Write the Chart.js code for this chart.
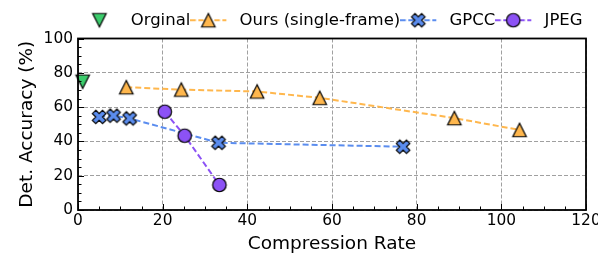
<!DOCTYPE html>
<html>
<head>
<meta charset="utf-8">
<script src="https://cdn.jsdelivr.net/npm/chart.js@4/dist/chart.umd.min.js"></script>
<style>
  html, body { margin: 0; padding: 0; background: #fff; }
</style>
</head>
<body>
<canvas id="accChart" width="598" height="257"></canvas>
<script>
// values
const seriesNames = ['Orginal', 'Ours (single-frame)', 'GPCC', 'JPEG'];
const originalX = [1.1];
const originalY = [74.8];
const oursX = [11.4, 24.4, 42.3, 57.1, 88.9, 104.3];
const oursY = [71.6, 70.2, 69.1, 65.4, 53.6, 46.7];
const gpccX = [5.0, 8.4, 12.2, 33.2, 76.8];
const gpccY = [54.3, 55.0, 53.4, 39.2, 36.9];
const jpegX = [20.5, 25.2, 33.4];
const jpegY = [57.3, 43.3, 14.6];
const xTicks = [0, 20, 40, 60, 80, 100, 120];
const yTicks = [0, 20, 40, 60, 80, 100];

const colors = ['#3ccc6c', '#ffb74d', '#5b8def', '#8c52f5'];
const shapes = ['down', 'up', 'x', 'circle'];
const FONT = 'DejaVu Sans';

// matplotlib-like filled markers
function drawMarker(c, shape, cx, cy, s, fill) {
    const h = s / 2;
    c.beginPath();
    if (shape === 'circle') {
        c.arc(cx, cy, h, 0, Math.PI * 2);
    } else if (shape === 'up') {
        c.moveTo(cx, cy - h); c.lineTo(cx + h, cy + h); c.lineTo(cx - h, cy + h); c.closePath();
    } else if (shape === 'down') {
        c.moveTo(cx, cy + h); c.lineTo(cx + h, cy - h); c.lineTo(cx - h, cy - h); c.closePath();
    } else {
        const pts = [[-1,-2],[0,-1],[1,-2],[2,-1],[1,0],[2,1],[1,2],[0,1],[-1,2],[-2,1],[-1,0],[-2,-1]];
        pts.forEach((p, i) => {
            const px = cx + p[0] * s / 4, py = cy + p[1] * s / 4;
            if (i === 0) c.moveTo(px, py); else c.lineTo(px, py);
        });
        c.closePath();
    }
    c.fillStyle = fill;
    c.fill();
    c.lineWidth = 1.2;
    c.strokeStyle = '#000';
    c.stroke();
}

function makeMarker(shape, fill) {
    const cv = document.createElement('canvas');
    cv.width = 20; cv.height = 20;
    drawMarker(cv.getContext('2d'), shape, 10, 10, 13.5, fill);
    return cv;
}

function makeHandle(shape, fill, withLine) {
    const cv = document.createElement('canvas');
    cv.width = 41; cv.height = 20;
    const c = cv.getContext('2d');
    if (withLine) {
        c.strokeStyle = fill;
        c.lineWidth = 2;
        c.setLineDash([5.5, 2.5]);
        c.beginPath(); c.moveTo(0, 10); c.lineTo(36, 10); c.stroke();
        c.setLineDash([]);
    }
    drawMarker(c, shape, 18, 10, 13.5, fill);
    return cv;
}

const handles = shapes.map((s, i) => makeHandle(s, colors[i], i > 0));

function makeSet(i, xs, ys, withLine, order) {
    return {
        label: seriesNames[i],
        data: xs.map((v, k) => ({ x: v, y: ys[k] })),
        showLine: withLine,
        borderColor: colors[i],
        backgroundColor: colors[i],
        borderWidth: 2,
        borderDash: [6, 3],
        pointStyle: makeMarker(shapes[i], colors[i]),
        pointRadius: 8,
        pointHoverRadius: 8,
        clip: false,
        order: order
    };
}

// inward ticks (major + minor) and the black frame
const frameTicks = {
    id: 'frameTicks',
    afterDraw(chart) {
        const { ctx, chartArea: a, scales: { x, y } } = chart;
        ctx.save();
        ctx.strokeStyle = '#000';
        ctx.lineWidth = 1;
        const tick = (px, py, dx, dy) => {
            ctx.beginPath(); ctx.moveTo(px, py); ctx.lineTo(px + dx, py + dy); ctx.stroke();
        };
        xTicks.forEach((t, i) => {
            tick(Math.round(x.getPixelForValue(t)) + 0.5, a.bottom, 0, -6);
            if (i < xTicks.length - 1) {
                const step = (xTicks[i + 1] - t) / 4;
                for (let k = 1; k < 4; k++) tick(Math.round(x.getPixelForValue(t + k * step)) + 0.5, a.bottom, 0, -3.5);
            }
        });
        yTicks.forEach((t, i) => {
            tick(a.left, Math.round(y.getPixelForValue(t)) + 0.5, 6, 0);
            if (i < yTicks.length - 1) {
                const step = (yTicks[i + 1] - t) / 4;
                for (let k = 1; k < 4; k++) tick(a.left, Math.round(y.getPixelForValue(t + k * step)) + 0.5, 3.5, 0);
            }
        });
        ctx.lineWidth = 1.8;
        ctx.strokeRect(a.left, a.top, a.width, a.height);
        ctx.restore();
    }
};

Chart.defaults.font.family = FONT;
Chart.defaults.color = '#000';

new Chart(document.getElementById('accChart'), {
    type: 'scatter',
    data: {
        datasets: [
            makeSet(0, originalX, originalY, false, 3),
            makeSet(1, oursX, oursY, true, 2),
            makeSet(2, gpccX, gpccY, true, 1),
            makeSet(3, jpegX, jpegY, true, 0)
        ]
    },
    options: {
        responsive: false,
        animation: false,
        devicePixelRatio: 1,
        layout: { padding: { top: 12, right: 12, left: 0, bottom: 0 } },
        plugins: {
            tooltip: { enabled: false },
            legend: {
                position: 'top',
                fullSize: false,
                labels: {
                    usePointStyle: true,
                    pointStyleWidth: 41,
                    padding: 0,
                    font: { size: 16.5 },
                    color: '#000',
                    generateLabels: () => seriesNames.map((n, i) => ({
                        text: n,
                        pointStyle: handles[i],
                        fillStyle: colors[i],
                        strokeStyle: colors[i],
                        lineWidth: 0,
                        hidden: false,
                        datasetIndex: i,
                        fontColor: '#000'
                    }))
                }
            }
        },
        scales: {
            x: {
                type: 'linear',
                min: 0, max: 120,
                afterBuildTicks: s => { s.ticks = xTicks.map(v => ({ value: v })); },
                afterFit: s => { s.paddingRight = 0; s.height = 47; },
                ticks: { font: { size: 15.4 }, color: '#000', padding: 2 },
                grid: { color: '#a0a0a0', lineWidth: 1, drawTicks: false },
                border: { display: false, dash: [4, 2] },
                title: { display: true, text: 'Compression Rate', font: { size: 18.5 }, color: '#000', padding: { top: 2, bottom: 2 } }
            },
            y: {
                type: 'linear',
                min: 0, max: 100,
                afterBuildTicks: s => { s.ticks = yTicks.map(v => ({ value: v })); },
                afterFit: s => { s.width = 78; },
                ticks: { font: { size: 15.4 }, color: '#000', padding: 5 },
                grid: { color: '#a0a0a0', lineWidth: 1, drawTicks: false },
                border: { display: false, dash: [4, 2] },
                title: { display: true, text: 'Det. Accuracy (%)', font: { size: 18.5 }, color: '#000', padding: { top: 16, bottom: 0 } }
            }
        }
    },
    plugins: [frameTicks]
});
</script>
</body>
</html>
